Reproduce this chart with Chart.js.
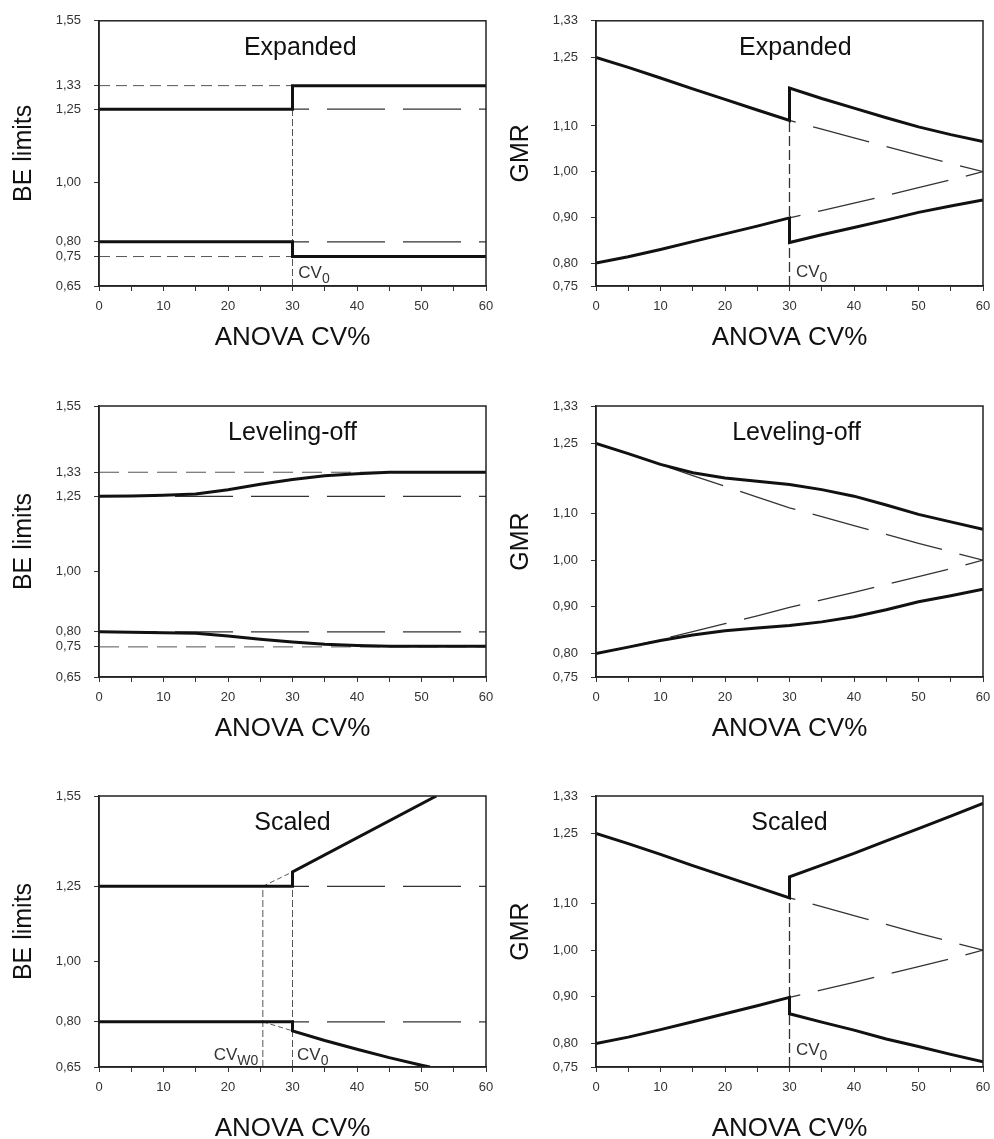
<!DOCTYPE html>
<html>
<head>
<meta charset="utf-8">
<script src="https://cdn.jsdelivr.net/npm/chart.js@4.4.1/dist/chart.umd.min.js"></script>
<style>
  body { margin: 0; background: #fff; width: 994px; height: 1139px; overflow: hidden; position: relative; }
  canvas { position: absolute; }
</style>
</head>
<body>
<canvas id="p1"></canvas>
<canvas id="p2"></canvas>
<canvas id="p3"></canvas>
<canvas id="p4"></canvas>
<canvas id="p5"></canvas>
<canvas id="p6"></canvas>
<script>
// x values (ANOVA CV%)
const cvSteps = [0, 5, 10, 15, 20, 25, 30, 35, 40, 45, 50, 55, 60];
const cvHigh = [30, 35, 40, 45, 50, 55, 60];
const cvSpan = [0, 60];
const cv0 = 30;
const cvW0 = 25.4;

// BE limits panels
const beWide = [1.33, 0.75];
const beStd = [1.25, 0.80];
const expandedX = [0, 30, 30, 60];
const expandedUpper = [1.25, 1.25, 1.33, 1.33];
const expandedLower = [0.80, 0.80, 0.75, 0.75];
const levelUpper = [1.25, 1.251, 1.254, 1.258, 1.272, 1.29, 1.306, 1.318, 1.325, 1.33, 1.33, 1.33, 1.33];
const levelLower = [0.80, 0.799, 0.797, 0.795, 0.786, 0.775, 0.766, 0.759, 0.755, 0.752, 0.752, 0.752, 0.752];
const scaledUpX = [0, 30, 30, 52.3];
const scaledUpper = [1.25, 1.25, 1.298, 1.55];
const scaledLowX = [0, 30, 30, 35, 40, 45, 50, 51.3];
const scaledLower = [0.80, 0.80, 0.770, 0.738, 0.709, 0.681, 0.656, 0.65];
const scaledExtX = [25.4, 30];
const scaledExtUpper = [1.25, 1.298];
const scaledExtLower = [0.80, 0.770];

// GMR panels
const gmrConvUpper = [1.25, 1.228, 1.205, 1.181, 1.158, 1.135, 1.112, 1.093, 1.074, 1.055, 1.036, 1.018, 1.0];
const gmrConvLower = [0.80, 0.814, 0.830, 0.847, 0.864, 0.881, 0.899, 0.915, 0.931, 0.948, 0.965, 0.982, 1.0];
const gmrExpUpper = [1.183, 1.160, 1.139, 1.118, 1.098, 1.081, 1.066];
const gmrExpLower = [0.845, 0.862, 0.878, 0.894, 0.911, 0.925, 0.938];
const gmrLevelUpper = [1.25, 1.228, 1.205, 1.187, 1.176, 1.169, 1.162, 1.151, 1.137, 1.118, 1.098, 1.082, 1.066];
const gmrLevelLower = [0.80, 0.814, 0.828, 0.840, 0.849, 0.855, 0.860, 0.868, 0.879, 0.894, 0.911, 0.924, 0.938];
const gmrScaledUpper = [1.157, 1.182, 1.207, 1.234, 1.260, 1.287, 1.314];
const gmrScaledLower = [0.864, 0.846, 0.829, 0.810, 0.794, 0.777, 0.761];

// tick labels
const beTicks = [0.65, 0.75, 0.80, 1.00, 1.25, 1.33, 1.55];
const beTicksScaled = [0.65, 0.80, 1.00, 1.25, 1.55];
const gmrTicks = [0.75, 0.80, 0.90, 1.00, 1.10, 1.25, 1.33];

const FONT = '"Liberation Sans", Arial, Helvetica, sans-serif';

function pts(xs, ys) {
  return xs.map((x, i) => ({ x: x, y: ys[i] }));
}

function solid(data) {
  return { data: data, borderColor: '#111', borderWidth: 3, pointRadius: 0, tension: 0, fill: false };
}
function thinDash(data, dash) {
  return { data: data, borderColor: '#555', borderWidth: 1, borderDash: dash || [11, 6], pointRadius: 0, tension: 0, fill: false };
}
function longDash(data) {
  return { data: data, borderColor: '#333', borderWidth: 1.3, borderDash: [58, 18], pointRadius: 0, tension: 0, fill: false };
}
function hLine(v) {
  return pts(cvSpan, [v, v]);
}

// frame, panel title and CV labels
const panelDecor = {
  id: 'panelDecor',
  afterDatasetsDraw(chart, args, opts) {
    const { ctx, chartArea: a, scales } = chart;
    ctx.save();
    ctx.strokeStyle = '#222';
    ctx.lineWidth = 1.5;
    ctx.strokeRect(a.left, a.top, a.right - a.left, a.bottom - a.top);

    ctx.fillStyle = '#111';
    ctx.font = '25px ' + FONT;
    ctx.textAlign = 'center';
    ctx.textBaseline = 'middle';
    ctx.fillText(opts.title, scales.x.getPixelForValue(opts.titleX), a.top + 27);

    ctx.fillStyle = '#333';
    ctx.textAlign = 'left';
    ctx.textBaseline = 'alphabetic';
    (opts.labels || []).forEach(l => {
      ctx.font = '17px ' + FONT;
      const w1 = ctx.measureText('CV').width;
      ctx.font = '14px ' + FONT;
      const w2 = ctx.measureText(l.sub).width;
      let px = scales.x.getPixelForValue(l.x);
      const py = scales.y.getPixelForValue(l.y);
      if (l.right) px -= w1 + w2;
      ctx.font = '17px ' + FONT;
      ctx.fillText('CV', px, py);
      ctx.font = '14px ' + FONT;
      ctx.fillText(l.sub, px + w1, py + 5);
    });
    ctx.restore();
  }
};

function makeChart(id, p) {
  const el = document.getElementById(id);
  el.width = 497;
  el.height = p.h;
  el.style.left = p.left + 'px';
  el.style.top = p.top + 'px';
  new Chart(el, {
    type: 'line',
    data: { datasets: p.datasets },
    options: {
      responsive: false,
      animation: false,
      devicePixelRatio: 1,
      layout: { padding: { top: p.padTop, right: 11, left: 0, bottom: 0 } },
      plugins: {
        legend: { display: false },
        tooltip: { enabled: false },
        panelDecor: { title: p.title, titleX: p.titleX, labels: p.labels }
      },
      scales: {
        x: {
          type: 'linear',
          min: 0,
          max: 60,
          ticks: {
            stepSize: 5,
            autoSkip: false,
            maxRotation: 0,
            padding: 8,
            color: '#333',
            font: { size: 13, family: FONT },
            callback: v => (v % 10 === 0 ? String(v) : '')
          },
          grid: { drawOnChartArea: false, tickLength: 5, color: '#333' },
          border: { color: '#222', width: 1.5 },
          title: { display: true, text: 'ANOVA CV%', color: '#111', font: { size: 26, family: FONT }, padding: 0 },
          afterFit: s => { s.height = p.xAxisH; s.paddingLeft = 0; s.paddingRight = 0; }
        },
        y: {
          type: 'linear',
          min: p.yMin,
          max: p.yMax,
          afterBuildTicks: s => { s.ticks = p.yTicks.map(v => ({ value: v })); },
          ticks: {
            padding: 13,
            color: '#333',
            font: { size: 13, family: FONT },
            callback: v => Number(v).toFixed(2).replace('.', ',')
          },
          grid: { drawOnChartArea: false, tickLength: 5, color: '#333' },
          border: { color: '#222', width: 1.5 },
          title: { display: true, text: p.yTitle, color: '#111', font: { size: 25, family: FONT }, padding: { top: 9, bottom: 0 } },
          afterFit: s => { s.width = 99; }
        }
      }
    },
    plugins: [panelDecor]
  });
}

const convUpperLow = pts(cvSteps.slice(0, 7), gmrConvUpper.slice(0, 7));
const convLowerLow = pts(cvSteps.slice(0, 7), gmrConvLower.slice(0, 7));

// Expanded - BE limits
makeChart('p1', {
  left: 0, top: 0, h: 353, padTop: 14, xAxisH: 67,
  yMin: 0.65, yMax: 1.55, yTicks: beTicks, yTitle: 'BE limits',
  title: 'Expanded', titleX: 31.2,
  labels: [{ x: 30.9, y: 0.676, sub: '0' }],
  datasets: [
    solid(pts(expandedX, expandedUpper)),
    solid(pts(expandedX, expandedLower)),
    thinDash(hLine(beWide[0])),
    thinDash(hLine(beWide[1])),
    longDash(hLine(beStd[0])),
    longDash(hLine(beStd[1])),
    thinDash(pts([cv0, cv0], [0.65, beWide[0]]), [7, 3])
  ]
});

// Expanded - GMR
makeChart('p2', {
  left: 497, top: 0, h: 353, padTop: 14, xAxisH: 67,
  yMin: 0.75, yMax: 1.33, yTicks: gmrTicks, yTitle: 'GMR',
  title: 'Expanded', titleX: 30.9,
  labels: [{ x: 31.0, y: 0.769, sub: '0' }],
  datasets: [
    solid(convUpperLow.concat(pts(cvHigh, gmrExpUpper))),
    solid(convLowerLow.concat(pts(cvHigh, gmrExpLower))),
    longDash(pts(cvSteps, gmrConvUpper)),
    longDash(pts(cvSteps, gmrConvLower)),
    { ...thinDash(pts([cv0, cv0], [0.75, gmrConvUpper[6]]), [10, 4]), borderColor: '#333', borderWidth: 1.3 }
  ]
});

// Leveling-off - BE limits
makeChart('p3', {
  left: 0, top: 380, h: 364, padTop: 26, xAxisH: 67,
  yMin: 0.65, yMax: 1.55, yTicks: beTicks, yTitle: 'BE limits',
  title: 'Leveling-off', titleX: 30.0,
  labels: [],
  datasets: [
    solid(pts(cvSteps, levelUpper)),
    solid(pts(cvSteps, levelLower)),
    thinDash(hLine(beWide[0]), [20, 9]),
    thinDash(hLine(beWide[1]), [20, 9]),
    longDash(hLine(beStd[0])),
    longDash(hLine(beStd[1]))
  ]
});

// Leveling-off - GMR
makeChart('p4', {
  left: 497, top: 380, h: 364, padTop: 26, xAxisH: 67,
  yMin: 0.75, yMax: 1.33, yTicks: gmrTicks, yTitle: 'GMR',
  title: 'Leveling-off', titleX: 31.1,
  labels: [],
  datasets: [
    solid(pts(cvSteps, gmrLevelUpper)),
    solid(pts(cvSteps, gmrLevelLower)),
    longDash(pts(cvSteps, gmrConvUpper)),
    longDash(pts(cvSteps, gmrConvLower))
  ]
});

// Scaled - BE limits
makeChart('p5', {
  left: 0, top: 760, h: 384, padTop: 36, xAxisH: 77,
  yMin: 0.65, yMax: 1.55, yTicks: beTicksScaled, yTitle: 'BE limits',
  title: 'Scaled', titleX: 30.0,
  labels: [{ x: 24.7, y: 0.673, sub: 'W0', right: true }, { x: 30.7, y: 0.673, sub: '0' }],
  datasets: [
    solid(pts(scaledUpX, scaledUpper)),
    solid(pts(scaledLowX, scaledLower)),
    thinDash(pts(scaledExtX, scaledExtUpper), [5, 3]),
    thinDash(pts(scaledExtX, scaledExtLower), [5, 3]),
    longDash(hLine(beStd[0])),
    longDash(hLine(beStd[1])),
    thinDash(pts([cvW0, cvW0], [0.65, beStd[0]]), [7, 3]),
    thinDash(pts([cv0, cv0], [0.65, scaledUpper[2]]), [7, 3])
  ]
});

// Scaled - GMR
makeChart('p6', {
  left: 497, top: 760, h: 384, padTop: 36, xAxisH: 77,
  yMin: 0.75, yMax: 1.33, yTicks: gmrTicks, yTitle: 'GMR',
  title: 'Scaled', titleX: 30.0,
  labels: [{ x: 31.0, y: 0.776, sub: '0' }],
  datasets: [
    solid(convUpperLow.concat(pts(cvHigh, gmrScaledUpper))),
    solid(convLowerLow.concat(pts(cvHigh, gmrScaledLower))),
    longDash(pts(cvSteps, gmrConvUpper)),
    longDash(pts(cvSteps, gmrConvLower)),
    { ...thinDash(pts([cv0, cv0], [0.75, gmrConvUpper[6]]), [10, 4]), borderColor: '#333', borderWidth: 1.3 }
  ]
});
</script>
</body>
</html>
